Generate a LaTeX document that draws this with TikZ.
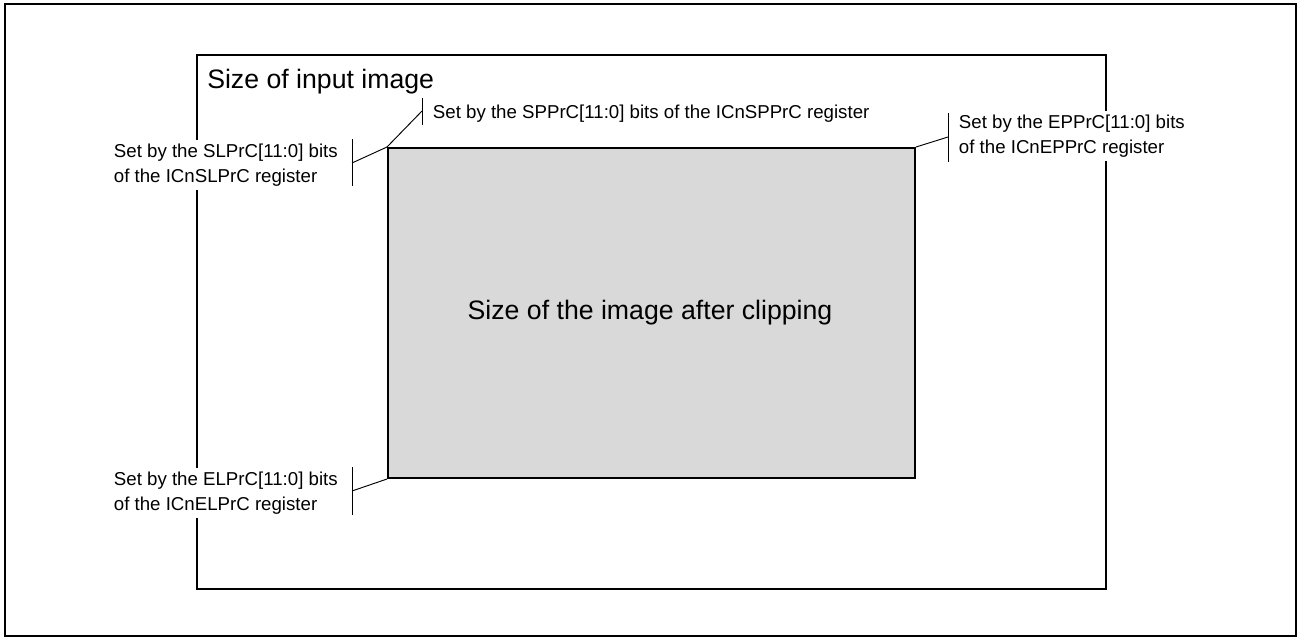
\documentclass[tikz,border=0pt]{standalone}
\usepackage{fontspec}
\setmainfont{Liberation Sans}
\definecolor{clipgray}{HTML}{D9D9D9}
\begin{document}
\begin{tikzpicture}[x=0.75pt,y=-0.75pt,
  frameline/.style={draw=black,line width=1.5pt},
  innerline/.style={draw=black,line width=1.2pt},
  leader/.style={draw=black,line width=0.7pt},
  labeltext/.style={fill=white,inner xsep=2pt,inner ysep=3pt,align=left,
    font=\fontsize{14pt}{18.75pt}\selectfont},
  bigtext/.style={inner sep=0pt,font=\fontsize{20pt}{24pt}\selectfont}]
\useasboundingbox (0,0) rectangle (1301,639);
% outer frame
\draw[frameline] (5,4) rectangle (1296,636);
% input image frame
\node[innerline,minimum width=909*0.75pt,minimum height=534*0.75pt,anchor=north west,inner sep=0pt] (input) at (196,54) {};
\node[bigtext,anchor=base west] (inputlbl) at (207,88) {Size of input image};
% clipped image
\node[draw=black,line width=1.5pt,fill=clipgray,minimum width=527*0.75pt,minimum height=330*0.75pt,anchor=north west,inner sep=0pt] (clip) at (387,147) {};
\node[bigtext] (cliplbl) at (650,313) {Size of the image after clipping};
% labels
\node[labeltext,anchor=west] (sl) at (111,165) {Set by the SLPrC[11:0] bits\\of the ICnSLPrC register};
\node[labeltext,anchor=west] (el) at (111,493) {Set by the ELPrC[11:0] bits\\of the ICnELPrC register};
\node[labeltext,anchor=base west] (sp) at (430,118) {Set by the SPPrC[11:0] bits of the ICnSPPrC register};
\node[labeltext,anchor=west] (ep) at (956,136) {Set by the EPPrC[11:0] bits\\of the ICnEPPrC register};
% brackets
\coordinate (slt) at (352,139); \coordinate (slb) at (352,186); \coordinate (slm) at (352,163);
\coordinate (elt) at (352,467); \coordinate (elb) at (352,515); \coordinate (elm) at (352,491);
\coordinate (spt) at (422,98); \coordinate (spb) at (422,125); \coordinate (spm) at (422,111);
\coordinate (ept) at (948,113); \coordinate (epb) at (948,162); \coordinate (epm) at (948,137);
\draw[leader] (slt) -- (slb);
\draw[leader] (elt) -- (elb);
\draw[leader] (spt) -- (spb);
\draw[leader] (ept) -- (epb);
\draw[leader] (clip.north west) -- (slm);
\draw[leader] (clip.south west) -- (elm);
\draw[leader] (clip.north west) -- (spm);
\draw[leader] (clip.north east) -- (epm);
\end{tikzpicture}
\end{document}
